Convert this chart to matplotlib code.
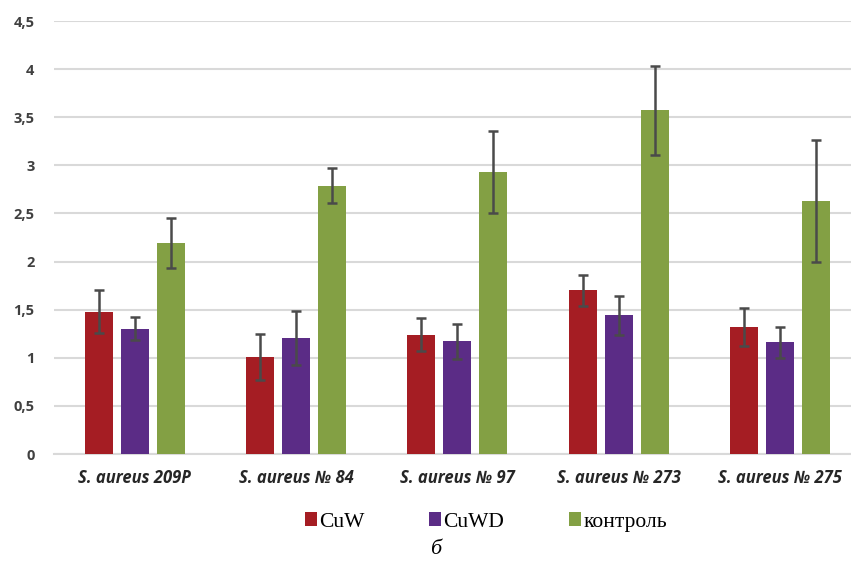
import matplotlib
matplotlib.use("Agg")
import matplotlib.pyplot as plt
import numpy as np
from matplotlib.patches import Patch

categories = ["S. aureus 209P", "S. aureus № 84", "S. aureus № 97", "S. aureus № 273", "S. aureus № 275"]
series_names = ["CuW", "CuWD", "контроль"]
cuw = [1.48, 1.01, 1.24, 1.70, 1.32]
cuw_err = [0.22, 0.24, 0.17, 0.16, 0.20]
cuwd = [1.30, 1.21, 1.17, 1.44, 1.16]
cuwd_err = [0.12, 0.28, 0.18, 0.20, 0.16]
control = [2.19, 2.79, 2.93, 3.57, 2.63]
control_err = [0.26, 0.18, 0.43, 0.46, 0.63]
yticks = [0, 0.5, 1, 1.5, 2, 2.5, 3, 3.5, 4, 4.5]
ytick_labels = ["0", "0,5", "1", "1,5", "2", "2,5", "3", "3,5", "4", "4,5"]

colors = ["#A51D23", "#5B2C86", "#83A044"]

fig = plt.figure(figsize=(8.51, 5.61), dpi=100)
ax = fig.add_axes([54/851, 1-454/561, 1-54/851, (454-21)/561])

x = np.arange(len(categories))
w = 0.175
step = 0.223
vals = [cuw, cuwd, control]
errs = [cuw_err, cuwd_err, control_err]
for i, (v, e, c) in enumerate(zip(vals, errs, colors)):
    ax.bar(x + (i-1)*step, v, width=w, color=c, zorder=3,
           yerr=e, error_kw=dict(ecolor="#4a4a4a", elinewidth=1.8, capsize=3.5, capthick=1.8, zorder=4))

ax.set_ylim(0, 4.5)
ax.set_xlim(-0.5, 4.44)
ax.set_yticks(yticks)
ax.set_yticklabels(ytick_labels, fontsize=10.5, fontweight="bold", color="#404040", family="Open Sans")
ax.set_xticks(x)
ax.set_xticklabels(categories, fontsize=12, fontweight="bold", style="italic", color="#262626", family="Open Sans")
ax.tick_params(axis="both", length=0)
ax.tick_params(axis="y", pad=14)
ax.tick_params(axis="x", pad=11)
ax.grid(axis="y", color="#D9D9D9", linewidth=1.5, zorder=0)
for s in ["top", "right", "left"]:
    ax.spines[s].set_visible(False)
ax.spines["bottom"].set_color("#D9D9D9")
ax.spines["bottom"].set_linewidth(1.5)

handles = [Patch(facecolor=c, label=n) for c, n in zip(colors, series_names)]
fig.legend(handles=handles, loc="center", bbox_to_anchor=(486/851, 1-522/561), ncol=3,
           frameon=False, prop=dict(family="Liberation Serif", size=15.5),
           handlelength=0.56, handleheight=0.56, handletextpad=0.1, columnspacing=3.0,
           borderpad=0)
fig.text(436/851, 1-549/561, "б", family="Liberation Serif", style="italic", fontsize=16, ha="center", va="center")

fig.savefig("out.png", dpi=100)
